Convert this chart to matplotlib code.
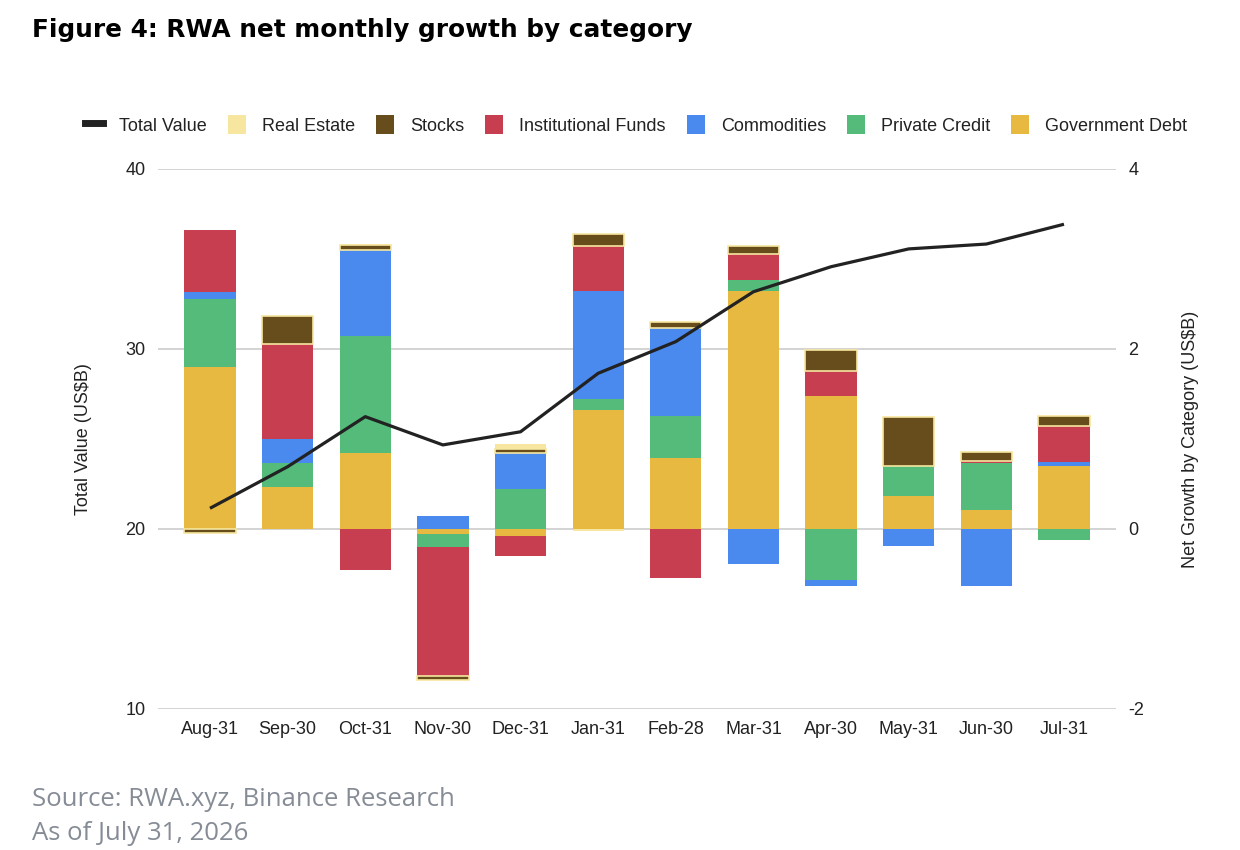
import numpy as np
import matplotlib
matplotlib.use("Agg")
import matplotlib.pyplot as plt
from matplotlib.lines import Line2D
from matplotlib.patches import Patch

months = ["Aug-31", "Sep-30", "Oct-31", "Nov-30", "Dec-31", "Jan-31",
          "Feb-28", "Mar-31", "Apr-30", "May-31", "Jun-30", "Jul-31"]
total_value = [21.15, 23.46, 26.24, 24.67, 25.40, 28.65,
               30.41, 33.18, 34.57, 35.56, 35.83, 36.93]
government_debt = [1.80, 0.47, 0.84, -0.06, -0.08, 1.32, 0.79, 2.64, 1.48, 0.37, 0.21, 0.70]
private_credit = [0.75, 0.26, 1.30, -0.14, 0.44, 0.12, 0.47, 0.13, -0.57, 0.33, 0.52, -0.12]
commodities = [0.08, 0.27, 0.96, 0.14, 0.40, 1.20, 0.97, -0.39, -0.06, -0.19, -0.63, 0.04]
institutional_funds = [0.69, 1.05, -0.46, -1.43, -0.22, 0.50, -0.54, 0.29, 0.28, 0.0, 0.02, 0.40]
stocks = [-0.04, 0.32, 0.05, -0.05, 0.05, 0.14, 0.07, 0.08, 0.23, 0.54, 0.10, 0.12]
real_estate = [0.0, 0.0, 0.02, 0.0, 0.05, -0.02, 0.0, 0.0, 0.0, 0.0, 0.0, 0.0]

# stacking order from the bottom up
series = [
    ("Government Debt", government_debt, "#e8b940"),
    ("Private Credit", private_credit, "#55bb7a"),
    ("Commodities", commodities, "#4a89ee"),
    ("Institutional Funds", institutional_funds, "#c83e51"),
    ("Stocks", stocks, "#674c1c"),
    ("Real Estate", real_estate, "#f7e6a0"),
]

plt.rcParams["font.family"] = ["Liberation Sans", "DejaVu Sans"]
plt.rcParams["font.size"] = 13
plt.rcParams["axes.unicode_minus"] = False

fig = plt.figure(figsize=(12.4, 8.5), dpi=100)
ax_r = fig.add_axes([0.1274, 0.1659, 0.9 - 0.1274, 0.8012 - 0.1659])
ax_l = ax_r.twinx()

x = np.arange(len(months))
pos_base = np.zeros(len(months))
neg_base = np.zeros(len(months))
for name, vals, col in series:
    vals = np.array(vals)
    bottoms = np.where(vals >= 0, pos_base, neg_base)
    if name == "Stocks":
        ax_r.bar(x, vals, 0.66, bottom=bottoms, color=col,
                 edgecolor="#f7e6a0", linewidth=1.2, zorder=2)
    else:
        ax_r.bar(x, vals, 0.66, bottom=bottoms, color=col, linewidth=0, zorder=2)
    pos_base = pos_base + np.where(vals >= 0, vals, 0)
    neg_base = neg_base + np.where(vals < 0, vals, 0)

ax_r.set_ylim(-2, 4)
ax_r.set_yticks([-2, 0, 2, 4])
ax_r.set_xlim(-0.67, 11.67)
ax_r.set_axisbelow(True)
ax_r.grid(axis="y", color="#cccccc", linewidth=1.2, zorder=0)
ax_r.set_xticks(x)
ax_r.set_xticklabels(months)
ax_r.tick_params(axis="x", length=0, pad=9, labelsize=13, colors="#222222")
ax_r.yaxis.tick_right()
ax_r.yaxis.set_label_position("right")
ax_r.tick_params(axis="y", length=0, pad=9, labelsize=13, colors="#222222")
ax_r.set_ylabel("Net Growth by Category (US$B)", fontsize=13, color="#222222", labelpad=27)

ax_l.plot(x, total_value, color="#222222", linewidth=2.3, solid_capstyle="butt", zorder=5)
ax_l.set_ylim(10, 40)
ax_l.set_yticks([10, 20, 30, 40])
ax_l.yaxis.tick_left()
ax_l.yaxis.set_label_position("left")
ax_l.tick_params(axis="y", length=0, pad=9, labelsize=13, colors="#222222")
ax_l.set_ylabel("Total Value (US$B)", fontsize=13, color="#222222", labelpad=24)

for a in (ax_r, ax_l):
    for s in a.spines.values():
        s.set_visible(False)

handles = [Line2D([0], [0], color="#222222", linewidth=5)]
labels = ["Total Value"]
for name, vals, col in reversed(series):
    handles.append(Patch(facecolor=col, edgecolor="none"))
    labels.append(name)
fig.legend(handles, labels, loc="center", bbox_to_anchor=(0.513, 0.853), ncol=7,
           frameon=False, fontsize=13, handlelength=1.0, handleheight=1.2,
           handletextpad=0.9, columnspacing=1.15, labelcolor="#222222")

fig.text(0.026, 0.965, "Figure 4: RWA net monthly growth by category",
         fontsize=17.8, fontweight="bold", family="DejaVu Sans", va="center", ha="left")
fig.text(0.026, 0.059, "Source: RWA.xyz, Binance Research", fontsize=18.5,
         family="Open Sans", color="#868c96", va="center", ha="left")
fig.text(0.026, 0.019, "As of July 31, 2026", fontsize=18.5,
         family="Open Sans", color="#868c96", va="center", ha="left")

fig.savefig("out.png", dpi=100)
